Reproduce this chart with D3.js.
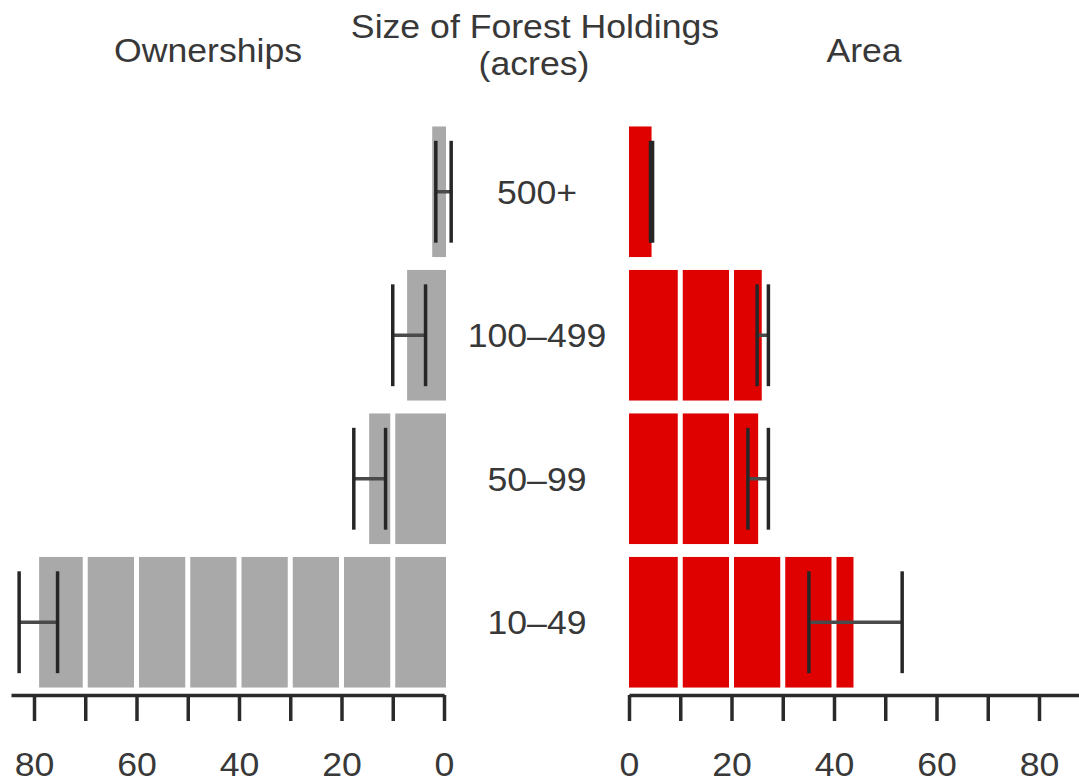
<!DOCTYPE html>
<html>
<head>
<meta charset="utf-8">
<script src="https://cdn.jsdelivr.net/npm/d3@7"></script>
<style>
  html, body { margin: 0; padding: 0; background: #fff; }
  svg { display: block; }
  text { font-family: "Liberation Sans", Arial, Helvetica, sans-serif; fill: #383838; }
</style>
</head>
<body>
<svg id="chart" width="1079" height="782"></svg>
<script>
// ---- data ----
const categories = ["500+", "100\u2013499", "50\u201399", "10\u201349"];
const ownerships = [2.3, 7.2, 14.6, 79.0];
const ownErrLo = [-1.4, 3.6, 11.4, 75.4];
const ownErrHi = [1.6, 10.0, 17.6, 82.9];
const area = [4.4, 25.9, 25.2, 43.8];
const areaErrLo = [4.2, 25.0, 23.2, 35.1];
const areaErrHi = [4.6, 27.2, 27.2, 53.3];
const tickValues = [0, 10, 20, 30, 40, 50, 60, 70, 80];
const labeledTicks = [0, 20, 40, 60, 80];
const gridValues = [10, 20, 30, 40, 50, 60, 70, 80];
const titles = { left: "Ownerships", center1: "Size of Forest Holdings", center2: "(acres)", right: "Area" };

// ---- layout ----
const svg = d3.select("#chart");
const pxPerUnit = 5.125;
const leftZero = 444, rightZero = 629;
const leftMax = (leftZero - 11) / pxPerUnit;
const rightMax = (1079 - rightZero) / pxPerUnit;
const xL = d3.scaleLinear().domain([0, leftMax]).range([leftZero, 11]);
const xR = d3.scaleLinear().domain([0, rightMax]).range([rightZero, 1079]);
const y = d3.scaleBand().domain(categories).range([120, 694]).paddingInner(0.09).paddingOuter(0.045);
const axisY = 695;
const grey = "#a9a9a9", red = "#df0000";
const stretch = 1.08;

const rows = categories.map((c, i) => ({
  c, own: ownerships[i], oLo: ownErrLo[i], oHi: ownErrHi[i],
  area: area[i], aLo: areaErrLo[i], aHi: areaErrHi[i]
}));

// bars
svg.append("g").selectAll("rect").data(rows).join("rect")
  .attr("x", d => xL(d.own)).attr("width", d => xL(0) - xL(d.own) + 2)
  .attr("y", d => y(d.c)).attr("height", y.bandwidth()).attr("fill", grey);
svg.append("g").selectAll("rect").data(rows).join("rect")
  .attr("x", xR(0)).attr("width", d => xR(d.area) - xR(0))
  .attr("y", d => y(d.c)).attr("height", y.bandwidth()).attr("fill", red);

// white grid lines over bars
[xL, xR].forEach(sc => {
  svg.append("g").selectAll("line").data(gridValues).join("line")
    .attr("x1", d => sc(d)).attr("x2", d => sc(d))
    .attr("y1", 118).attr("y2", axisY - 3)
    .attr("stroke", "#fff").attr("stroke-width", 5);
});

// error bars
function errBars(sc, lo, hi) {
  const g = svg.append("g");
  const capH = y.bandwidth() * 0.78;
  g.selectAll(".h").data(rows).join("line")
    .attr("x1", d => sc(d[lo])).attr("x2", d => sc(d[hi]))
    .attr("y1", d => y(d.c) + y.bandwidth() / 2).attr("y2", d => y(d.c) + y.bandwidth() / 2)
    .attr("stroke", "#4a4a4a").attr("stroke-width", 3.5);
  [lo, hi].forEach(k => {
    g.selectAll(".c" + k).data(rows).join("line")
      .attr("x1", d => sc(d[k])).attr("x2", d => sc(d[k]))
      .attr("y1", d => y(d.c) + (y.bandwidth() - capH) / 2)
      .attr("y2", d => y(d.c) + (y.bandwidth() + capH) / 2)
      .attr("stroke", "#262626").attr("stroke-width", 3.5);
  });
}
errBars(xL, "oLo", "oHi");
errBars(xR, "aLo", "aHi");

// axes
function drawAxis(sc) {
  const ax = d3.axisBottom(sc).tickValues(tickValues)
    .tickFormat(d => labeledTicks.includes(d) ? d : "")
    .tickSizeInner(26).tickSizeOuter(0).tickPadding(32);
  const g = svg.append("g").attr("transform", `translate(0,${axisY})`).call(ax);
  g.select(".domain").attr("stroke", "#2a2a2a").attr("stroke-width", 3.5);
  g.selectAll(".tick line").attr("stroke", "#2a2a2a").attr("stroke-width", 3.5);
  g.selectAll(".tick text").attr("font-size", 33).attr("fill", "#383838")
    .attr("transform", `scale(${stretch},1)`)
    .style("font-family", '"Liberation Sans", Arial, sans-serif');
}
drawAxis(xL);
drawAxis(xR);

// category labels
svg.append("g").selectAll("text").data(rows).join("text")
  .attr("transform", d => `translate(537,${y(d.c) + y.bandwidth() / 2}) scale(${stretch},1)`)
  .attr("dy", "0.36em").attr("text-anchor", "middle").attr("font-size", 33)
  .text(d => d.c);

// titles
const t = svg.append("g").attr("font-size", 33).attr("text-anchor", "middle");
const addTitle = (x, yy, s) => t.append("text")
  .attr("transform", `translate(${x},${yy}) scale(${stretch},1)`).text(s);
addTitle(208, 62, titles.left);
addTitle(535, 38, titles.center1);
addTitle(534, 75, titles.center2);
addTitle(864, 62, titles.right);
</script>
</body>
</html>
